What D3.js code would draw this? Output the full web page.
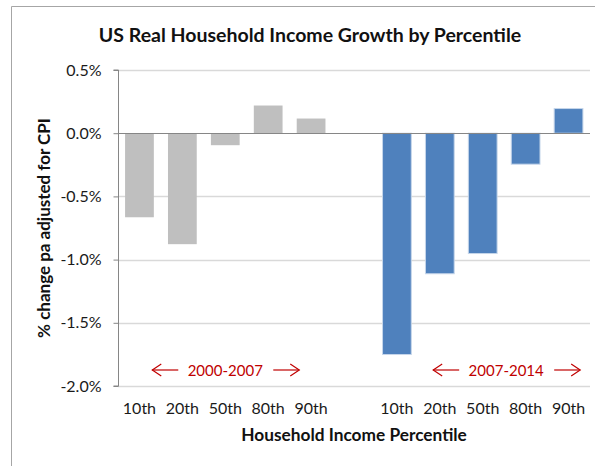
<!DOCTYPE html>
<html>
<head>
<meta charset="utf-8">
<script src="https://cdn.jsdelivr.net/npm/d3@7"></script>
<style>
  html, body { margin: 0; padding: 0; background: #fff; }
  svg { display: block; font-family: Lato, "Open Sans", sans-serif; }
</style>
</head>
<body>
<svg id="chart" width="595" height="466"></svg>
<script>
// Percentile groups and annualised real income growth (% pa, CPI-adjusted)
const percentiles = ["10th", "20th", "50th", "80th", "90th"];
const periods = ["2000-2007", "2007-2014"];
const growth2000to2007 = [-0.665, -0.878, -0.095, 0.219, 0.116];
const growth2007to2014 = [-1.751, -1.112, -0.952, -0.245, 0.195];
const yTicks = [0.5, 0.0, -0.5, -1.0, -1.5, -2.0];

const periodColors = ["#bfbfbf", "#4f81bd"];

// Flatten into one row per bar, with an empty slot between the periods
const rows = [];
[growth2000to2007, growth2007to2014].forEach((vals, p) => {
  if (p > 0) rows.push({ key: "gap", label: "", value: null, period: -1 });
  vals.forEach((v, i) => rows.push({ key: periods[p] + "|" + percentiles[i], label: percentiles[i], value: v, period: p }));
});

const svg = d3.select("#chart");
const plot = { left: 118, right: 590, top: 70, bottom: 386 };

// Outer chart frame
svg.append("path")
  .attr("d", "M11.5,466 V6.5 H600")
  .attr("fill", "none").attr("stroke", "#a6a6a6").attr("stroke-width", 1);

const x = d3.scaleBand()
  .domain(rows.map(d => d.key))
  .range([plot.left, plot.right])
  .paddingInner(0.33)
  .paddingOuter(0.165);

const y = d3.scaleLinear()
  .domain([-2.0, 0.5])
  .range([plot.bottom, plot.top]);

// Horizontal gridlines
svg.append("g")
  .selectAll("line")
  .data(yTicks.filter(t => t !== 0))
  .join("line")
  .attr("x1", plot.left).attr("x2", plot.right)
  .attr("y1", d => Math.round(y(d)) + 0.5).attr("y2", d => Math.round(y(d)) + 0.5)
  .attr("stroke", "#d9d9d9").attr("stroke-width", 1.5);

// Bars
svg.append("g")
  .selectAll("rect")
  .data(rows.filter(d => d.value !== null))
  .join("rect")
  .attr("x", d => x(d.key))
  .attr("width", x.bandwidth())
  .attr("y", d => y(Math.max(0, d.value)))
  .attr("height", d => Math.abs(y(d.value) - y(0)))
  .attr("fill", d => periodColors[d.period])
  .attr("stroke", d => d.period === 1 ? "#c6d6ea" : "none")
  .attr("stroke-width", 1);

// Zero baseline
svg.append("line")
  .attr("x1", plot.left).attr("x2", plot.right)
  .attr("y1", Math.round(y(0)) + 0.5).attr("y2", Math.round(y(0)) + 0.5)
  .attr("stroke", "#868686").attr("stroke-width", 1.2);

// Y axis
const yAxis = svg.append("g")
  .attr("transform", `translate(${plot.left + 0.5},0)`)
  .call(d3.axisLeft(y).tickValues(yTicks).tickSize(5).tickPadding(12)
    .tickFormat(d => d3.format(".1f")(d).replace("−", "-") + "%"));
yAxis.select(".domain").attr("stroke", "#868686").attr("d", `M-5,${y(0.5)}H0V${y(-2.0)}H-5`);
yAxis.selectAll(".tick line").attr("stroke", "#868686");
yAxis.selectAll(".tick text")
  .attr("font-size", 16).attr("fill", "#1a1a1a")
  .attr("font-family", "Lato, sans-serif");

// X tick labels
svg.append("g")
  .selectAll("text")
  .data(rows.filter(d => d.label))
  .join("text")
  .attr("x", d => x(d.key) + x.bandwidth() / 2)
  .attr("y", 414)
  .attr("text-anchor", "middle")
  .attr("font-size", 16).attr("fill", "#1a1a1a")
  .text(d => d.label);

// Titles
svg.append("text")
  .attr("x", 310).attr("y", 42)
  .attr("text-anchor", "middle")
  .attr("font-size", 19.5).attr("font-weight", "bold").attr("fill", "#111")
  .text("US Real Household Income Growth by Percentile");

svg.append("text")
  .attr("x", (plot.left + plot.right) / 2).attr("y", 441)
  .attr("text-anchor", "middle")
  .attr("font-size", 17.3).attr("font-weight", "bold").attr("fill", "#111")
  .text("Household Income Percentile");

svg.append("text")
  .attr("transform", `translate(50,${(plot.top + plot.bottom) / 2}) rotate(-90)`)
  .attr("text-anchor", "middle")
  .attr("font-size", 17).attr("font-weight", "bold").attr("fill", "#111")
  .text("% change pa adjusted for CPI");

// Period annotations with double-sided arrows; each label sits between two bars of its period
const red = "#c00000";
const annY = 370;
const annotationAnchors = [["50th", "50th"], ["50th", "80th"]];
periods.forEach((label, p) => {
  const [a0, a1] = annotationAnchors[p];
  const cx = (x(label + "|" + a0) + x(label + "|" + a1)) / 2 + x.bandwidth() / 2 + (p === 1 ? 2 : 0);
  const g = svg.append("g");
  g.append("text")
    .attr("x", cx).attr("y", annY + 5.5)
    .attr("text-anchor", "middle")
    .attr("font-size", 15).attr("fill", red)
    .text(label);
  const arrows = [
    { x0: cx - 47, x1: cx - 73, dir: -1 },
    { x0: cx + 48, x1: cx + 74, dir: 1 }
  ];
  arrows.forEach(a => {
    g.append("line")
      .attr("x1", a.x0).attr("x2", a.x1)
      .attr("y1", annY).attr("y2", annY)
      .attr("stroke", red).attr("stroke-width", 1.2);
    g.append("path")
      .attr("d", `M${a.x1 - a.dir * 9},${annY - 6} L${a.x1},${annY} L${a.x1 - a.dir * 9},${annY + 6}`)
      .attr("fill", "none").attr("stroke", red).attr("stroke-width", 1.2);
  });
});
</script>
</body>
</html>
